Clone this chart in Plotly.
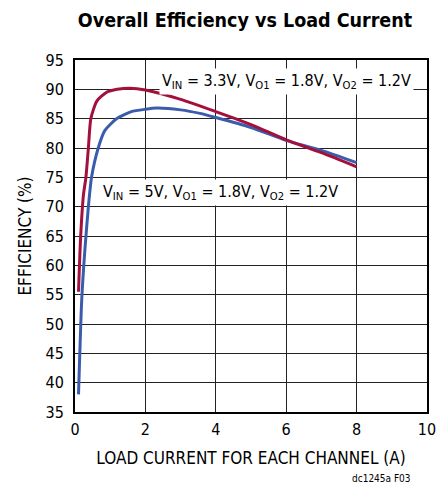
import plotly.graph_objects as go

# Data
x_33 = [0.1, 0.16, 0.24, 0.31, 0.38, 0.45, 0.62, 0.9, 1.2, 1.56, 2.0, 3.0, 4.0, 5.0, 6.0, 7.0, 8.0]
y_33 = [55.5, 64.8, 72.0, 75.0, 80.0, 85.0, 88.0, 89.5, 90.0, 90.2, 89.9, 88.3, 86.2, 84.0, 81.4, 79.2, 76.8]

x_5 = [0.1, 0.19, 0.28, 0.38, 0.47, 0.66, 0.85, 1.18, 1.6, 2.0, 2.32, 3.0, 3.55, 4.0, 5.0, 6.0, 7.0, 8.0]
y_5 = [38.0, 54.0, 62.6, 70.0, 75.0, 80.0, 83.0, 85.0, 86.2, 86.6, 86.8, 86.5, 85.9, 85.2, 83.5, 81.3, 79.6, 77.5]

x_ticks = [0, 2, 4, 6, 8, 10]
y_ticks = [35, 40, 45, 50, 55, 60, 65, 70, 75, 80, 85, 90, 95]

label_33 = "V<sub>IN</sub> = 3.3V, V<sub>O1</sub> = 1.8V, V<sub>O2</sub> = 1.2V"
label_5 = "V<sub>IN</sub> = 5V, V<sub>O1</sub> = 1.8V, V<sub>O2</sub> = 1.2V"

FONT = "DejaVu Sans Condensed, Liberation Sans Narrow, sans-serif"

fig = go.Figure()
fig.add_trace(go.Scatter(x=x_5, y=y_5, mode="lines", line=dict(color="#3b5cab", width=3, shape="spline", smoothing=0.6),
                         showlegend=False))
fig.add_trace(go.Scatter(x=x_33, y=y_33, mode="lines", line=dict(color="#a3103c", width=3, shape="spline", smoothing=0.6),
                         showlegend=False))

fig.update_layout(
    width=438, height=485,
    margin=dict(l=75, r=11, t=60, b=73, autoexpand=False),
    plot_bgcolor="white", paper_bgcolor="white",
    font=dict(family=FONT, color="black", size=16),
    title=dict(text="<b>Overall Efficiency vs Load Current</b>", x=245 / 438, xanchor="center", y=1 - 20 / 485, yanchor="middle",
               font=dict(family=FONT, size=19.5, color="black")),
    xaxis=dict(range=[0, 10], tickvals=x_ticks, showgrid=True, gridcolor="#222", gridwidth=1,
               showline=True, linecolor="black", linewidth=2, mirror=True, ticks="",
               zeroline=False, tickfont=dict(size=16), automargin=False, ticklabelstandoff=2,
               title=dict(text="LOAD CURRENT FOR EACH CHANNEL (A)", font=dict(size=17), standoff=14)),
    yaxis=dict(range=[35, 95], tickvals=y_ticks, showgrid=True, gridcolor="#222", gridwidth=1,
               showline=True, linecolor="black", linewidth=2, mirror=True, ticks="",
               zeroline=False, tickfont=dict(size=16), ticklabelstandoff=6, automargin=False,
               title=dict(text="EFFICIENCY (%)", font=dict(size=17), standoff=10)),
    annotations=[
        dict(text=label_33, x=2.4, y=91.3, xref="x", yref="y", xanchor="left", yanchor="middle",
             showarrow=False, bgcolor="white", borderpad=2, font=dict(size=16, family=FONT)),
        dict(text=label_5, x=0.72, y=72.5, xref="x", yref="y", xanchor="left", yanchor="middle",
             showarrow=False, bgcolor="white", borderpad=2, font=dict(size=16, family=FONT)),
        dict(text="dc1245a F03", x=0.96, y=-0.1875, xref="paper", yref="paper", xanchor="right", yanchor="middle",
             showarrow=False, font=dict(size=10, family=FONT)),
    ],
)

fig.write_html("out.html", config={"displayModeBar": False},
               post_script="document.body.style.margin='0';document.body.style.overflow='hidden';")
